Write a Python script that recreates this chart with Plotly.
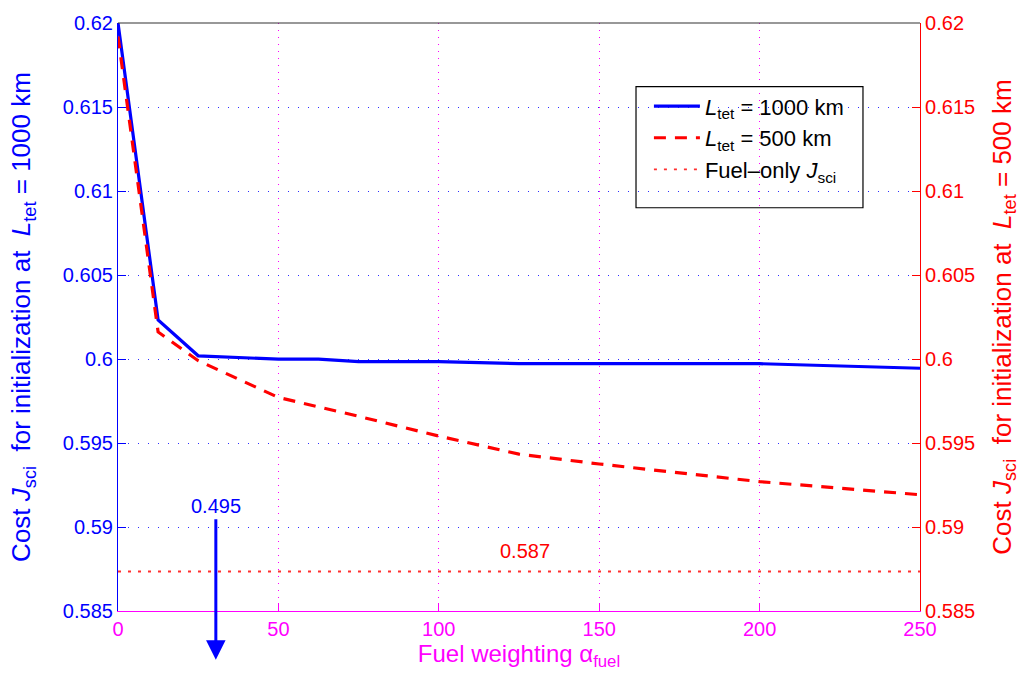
import plotly.graph_objects as go

# Fuel weighting values and the resulting science cost for the two tether lengths
alpha_fuel = [0, 12.5, 25, 50, 62.5, 75, 100, 125, 150, 200, 250]
cost_1000km = [0.6200, 0.60232, 0.60019, 0.59999, 0.59999, 0.59984, 0.59984, 0.59972, 0.59972, 0.59972, 0.59945]
cost_500km = [0.6192, 0.60161, 0.59990, 0.59771, 0.59715, 0.59659, 0.59541, 0.59434, 0.59375, 0.59270, 0.59192]

# Fuel-only reference cost
fuel_only_cost = 0.58735
fuel_only_label = "0.587"

# Arrow marking an off-scale value
arrow_alpha = 30.5
arrow_label = "0.495"

y_ticks = [0.585, 0.59, 0.595, 0.6, 0.605, 0.61, 0.615, 0.62]
y_ticktext = ["0.585", "0.59", "0.595", "0.6", "0.605", "0.61", "0.615", "0.62"]
x_ticks = [0, 50, 100, 150, 200, 250]

FONT = "Liberation Sans, Arial, Helvetica, sans-serif"
BLUE = "#0000ff"
RED = "#ff0000"
MAGENTA = "#ff00ff"
NB = "&nbsp;"

fig = go.Figure()

fig.add_trace(go.Scatter(
    x=alpha_fuel, y=cost_1000km, mode="lines",
    line=dict(color=BLUE, width=3.2),
    name="<i>L</i><sub>tet</sub> = 1000 km",
))
fig.add_trace(go.Scatter(
    x=alpha_fuel, y=cost_500km, mode="lines",
    line=dict(color=RED, width=3.2, dash="12px,9px"),
    name="<i>L</i><sub>tet</sub> = 500 km",
    yaxis="y2",
))
fig.add_trace(go.Scatter(
    x=[alpha_fuel[0], alpha_fuel[-1]], y=[fuel_only_cost, fuel_only_cost], mode="lines",
    line=dict(color="#ff3030", width=1.8, dash="3px,7px"),
    name="Fuel\u2013only <i>J</i><sub>sci</sub>",
    yaxis="y2",
))

fig.update_layout(
    width=1029, height=684,
    margin=dict(l=118, r=109, t=19, b=73),
    paper_bgcolor="white", plot_bgcolor="white",
    font=dict(family=FONT, size=20, color="black"),
    showlegend=True,
    legend=dict(
        x=0.662, y=0.894, xanchor="left", yanchor="top",
        bgcolor="rgba(0,0,0,0)", borderwidth=0,
        font=dict(family=FONT, size=22, color="black"),
        tracegroupgap=0, itemwidth=46,
    ),
    xaxis=dict(
        range=[0, 250], tickvals=x_ticks,
        showline=True, linecolor=MAGENTA, linewidth=1.2,
        ticks="inside", ticklen=8, tickcolor=MAGENTA,
        tickfont=dict(family=FONT, size=20, color=MAGENTA),
        showgrid=True, gridcolor=MAGENTA, gridwidth=1, griddash="1px,6px",
        zeroline=False,
        title=dict(text="Fuel weighting \u03b1<sub>fuel</sub>",
                   font=dict(family=FONT, size=24, color=MAGENTA), standoff=4),
    ),
    yaxis=dict(
        range=[0.585, 0.62], tickvals=y_ticks, ticktext=y_ticktext,
        showline=True, linecolor=BLUE, linewidth=1.2,
        ticks="inside", ticklen=8, tickcolor=BLUE,
        tickfont=dict(family=FONT, size=20, color=BLUE),
        showgrid=True, gridcolor="#3030ff", gridwidth=1, griddash="1px,9px",
        zeroline=False,
        title=dict(text="Cost <i>J</i><sub>sci</sub>" + NB + " for initialization at" + NB + " <i>L</i><sub>tet</sub> = 1000 km",
                   font=dict(family=FONT, size=26, color=BLUE), standoff=24),
    ),
    yaxis2=dict(
        range=[0.585, 0.62], tickvals=y_ticks, ticktext=y_ticktext,
        overlaying="y", side="right",
        showline=True, linecolor=RED, linewidth=1.2,
        ticks="inside", ticklen=8, tickcolor=RED,
        tickfont=dict(family=FONT, size=20, color=RED),
        showgrid=False, zeroline=False,
        title=dict(text="Cost <i>J</i><sub>sci</sub>" + NB + " for initialization at" + NB + " <i>L</i><sub>tet</sub> = 500 km",
                   font=dict(family=FONT, size=26, color=RED), standoff=18),
    ),
)

# Top frame line
fig.add_shape(type="line", xref="paper", yref="paper", x0=0, x1=1, y0=1, y1=1,
              line=dict(color="#333333", width=1.2))

# Legend frame (transparent so the grid shows through)
fig.add_shape(type="rect", xref="paper", yref="paper",
              x0=0.6459, x1=0.9289, y0=0.6858, y1=0.8919,
              line=dict(color="black", width=1.2), fillcolor="rgba(0,0,0,0)", layer="above")

# Fuel-only value label
fig.add_annotation(x=127, y=0.5886, xref="x", yref="y2",
                   text=fuel_only_label, showarrow=False, yanchor="middle",
                   font=dict(family=FONT, size=20, color=RED))

# Arrow pointing to an off-scale value
fig.add_annotation(x=arrow_alpha, y=-0.083, xref="x", yref="paper",
                   ax=0, ay=-142, axref="pixel", ayref="pixel",
                   text="", showarrow=True, arrowhead=2, arrowsize=1.3,
                   arrowwidth=3, arrowcolor=BLUE)
fig.add_annotation(x=arrow_alpha, y=0.1783, xref="x", yref="paper",
                   text=arrow_label, showarrow=False, yanchor="middle",
                   font=dict(family=FONT, size=20, color=BLUE))

fig.write_html("out.html")
